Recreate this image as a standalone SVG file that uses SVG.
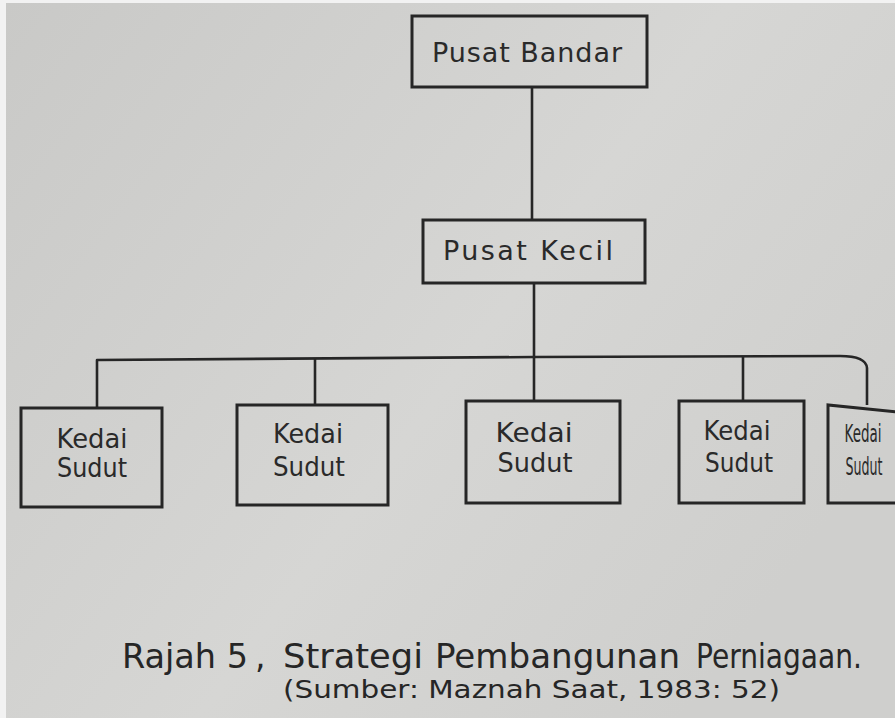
<svg xmlns="http://www.w3.org/2000/svg" width="895" height="718" viewBox="0 0 895 718">
<defs>
<linearGradient id="bg" x1="0" y1="0" x2="1" y2="0.6">
<stop offset="0" stop-color="#c9c9c7"/>
<stop offset="0.6" stop-color="#d6d6d4"/>
<stop offset="1" stop-color="#cfcfcd"/>
</linearGradient>
<style>
.box{fill:none;stroke:#262626;stroke-width:3}
.ln{fill:none;stroke:#262626;stroke-width:2.6;stroke-linejoin:round}
.t{font-family:"DejaVu Sans","Liberation Sans",sans-serif;fill:#2a2a2a;text-anchor:middle}
.cap{font-family:"DejaVu Sans","Liberation Sans",sans-serif;fill:#262626}
</style>
</defs>
<rect width="895" height="718" fill="#f2f2f2"/>
<rect x="6" y="3" width="889" height="715" fill="url(#bg)"/>

<g id="connectors">
<line class="ln" x1="532" y1="87" x2="532" y2="220"/>
<line class="ln" x1="534" y1="283" x2="534" y2="357"/>
<path class="ln" d="M97,408 V360 L534,357 L840,356 Q866,356 867,368 L867,405"/>
<line class="ln" x1="315" y1="359" x2="315" y2="405"/>
<line class="ln" x1="534" y1="357" x2="534" y2="401"/>
<line class="ln" x1="743" y1="356" x2="743" y2="401"/>
</g>

<g id="pusat-bandar">
<rect class="box" x="412" y="16" width="235" height="71"/>
<text class="t" x="527" y="62" font-size="27" textLength="190" lengthAdjust="spacing">Pusat Bandar</text>
</g>

<g id="pusat-kecil">
<rect class="box" x="423" y="220" width="222" height="63"/>
<text class="t" x="528" y="260" font-size="27" textLength="170" lengthAdjust="spacing">Pusat Kecil</text>
</g>

<g id="kedai-1">
<rect class="box" x="21" y="408" width="141" height="99"/>
<text class="t" x="92" y="448" font-size="27" textLength="71" lengthAdjust="spacingAndGlyphs">Kedai</text>
<text class="t" x="92" y="477" font-size="27" textLength="70" lengthAdjust="spacingAndGlyphs">Sudut</text>
</g>

<g id="kedai-2">
<rect class="box" x="237" y="405" width="151" height="100"/>
<text class="t" x="308" y="443" font-size="27" textLength="70" lengthAdjust="spacingAndGlyphs">Kedai</text>
<text class="t" x="309" y="476" font-size="27" textLength="72" lengthAdjust="spacingAndGlyphs">Sudut</text>
</g>

<g id="kedai-3">
<rect class="box" x="466" y="401" width="154" height="102"/>
<text class="t" x="534" y="442" font-size="27" textLength="77" lengthAdjust="spacingAndGlyphs">Kedai</text>
<text class="t" x="535" y="472" font-size="27" textLength="75" lengthAdjust="spacingAndGlyphs">Sudut</text>
</g>

<g id="kedai-4">
<rect class="box" x="679" y="401" width="125" height="102"/>
<text class="t" x="737" y="440" font-size="27" textLength="67" lengthAdjust="spacingAndGlyphs">Kedai</text>
<text class="t" x="739" y="472" font-size="27" textLength="68" lengthAdjust="spacingAndGlyphs">Sudut</text>
</g>

<g id="kedai-5">
<path class="box" d="M897,412 L828,405 L828,503 L897,503"/>
<text class="t" x="863" y="442" font-size="16" textLength="37" lengthAdjust="spacingAndGlyphs" transform="translate(0,-221) scale(1,1.5)">Kedai</text>
<text class="t" x="864" y="475" font-size="16" textLength="37" lengthAdjust="spacingAndGlyphs" transform="translate(0,-237.5) scale(1,1.5)">Sudut</text>
</g>

<g id="caption">
<text class="cap" x="122" y="668" font-size="33" textLength="126" lengthAdjust="spacingAndGlyphs">Rajah 5</text>
<text class="cap" x="255" y="668" font-size="33">,</text>
<text class="cap" x="283" y="668" font-size="33" textLength="140" lengthAdjust="spacingAndGlyphs">Strategi</text>
<text class="cap" x="435" y="668" font-size="33" textLength="245" lengthAdjust="spacingAndGlyphs">Pembangunan</text>
<text class="cap" x="696" y="668" font-size="33" textLength="166" lengthAdjust="spacingAndGlyphs">Perniagaan.</text>
<text class="cap" x="283" y="698" font-size="25" textLength="497" lengthAdjust="spacingAndGlyphs">(Sumber: Maznah Saat, 1983: 52)</text>
</g>
</svg>
